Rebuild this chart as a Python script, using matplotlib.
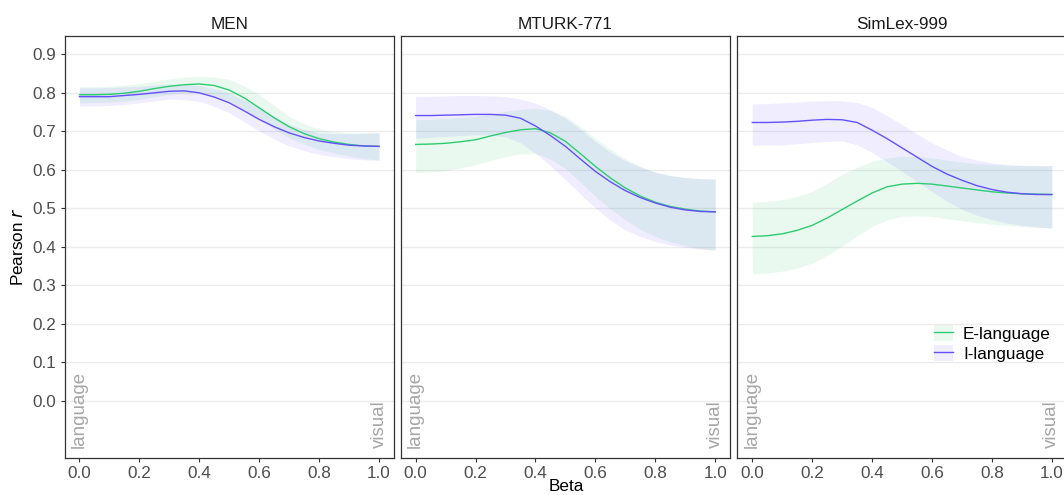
import matplotlib
matplotlib.use("Agg")
import matplotlib.pyplot as plt
from matplotlib.patches import Patch
from matplotlib.lines import Line2D

plt.rcParams['font.family'] = ['Liberation Sans', 'DejaVu Sans']

# ---- data ----
beta = [0.0, 0.05, 0.1, 0.15, 0.2, 0.25, 0.3, 0.35, 0.4, 0.45, 0.5,
        0.55, 0.6, 0.65, 0.7, 0.75, 0.8, 0.85, 0.9, 0.95, 1.0]
panels = ["MEN", "MTURK-771", "SimLex-999"]
series = ["E-language", "I-language"]

# MEN
men_e_mean = [0.795, 0.795, 0.796, 0.799, 0.804, 0.811, 0.817, 0.821, 0.823, 0.819, 0.807,
              0.787, 0.761, 0.735, 0.712, 0.694, 0.681, 0.672, 0.666, 0.662, 0.661]
men_e_low  = [0.774, 0.775, 0.776, 0.779, 0.783, 0.790, 0.796, 0.800, 0.802, 0.793, 0.778,
              0.756, 0.731, 0.706, 0.683, 0.667, 0.653, 0.644, 0.636, 0.630, 0.625]
men_e_high = [0.816, 0.816, 0.817, 0.820, 0.824, 0.830, 0.836, 0.841, 0.843, 0.841, 0.835,
              0.818, 0.796, 0.767, 0.739, 0.720, 0.705, 0.699, 0.696, 0.696, 0.696]
men_i_mean = [0.790, 0.790, 0.790, 0.793, 0.796, 0.800, 0.804, 0.805, 0.800, 0.789, 0.774,
              0.753, 0.731, 0.712, 0.696, 0.684, 0.675, 0.669, 0.664, 0.662, 0.661]
men_i_low  = [0.765, 0.766, 0.767, 0.770, 0.774, 0.779, 0.784, 0.782, 0.778, 0.765, 0.748,
              0.725, 0.701, 0.680, 0.662, 0.650, 0.640, 0.634, 0.629, 0.626, 0.625]
men_i_high = [0.813, 0.813, 0.814, 0.815, 0.817, 0.820, 0.823, 0.822, 0.819, 0.811, 0.800,
              0.782, 0.761, 0.739, 0.718, 0.705, 0.696, 0.694, 0.694, 0.695, 0.696]

# MTURK-771
mt_e_mean = [0.666, 0.667, 0.669, 0.673, 0.678, 0.688, 0.697, 0.704, 0.707, 0.696, 0.674,
             0.642, 0.609, 0.579, 0.553, 0.532, 0.516, 0.505, 0.498, 0.493, 0.491]
mt_e_low  = [0.593, 0.595, 0.598, 0.605, 0.613, 0.624, 0.635, 0.641, 0.643, 0.628, 0.604,
             0.568, 0.531, 0.499, 0.470, 0.446, 0.427, 0.413, 0.404, 0.396, 0.392]
mt_e_high = [0.730, 0.731, 0.733, 0.736, 0.739, 0.745, 0.752, 0.757, 0.760, 0.754, 0.739,
             0.713, 0.682, 0.654, 0.629, 0.609, 0.594, 0.585, 0.580, 0.577, 0.576]
mt_i_mean = [0.741, 0.741, 0.742, 0.743, 0.744, 0.744, 0.742, 0.734, 0.714, 0.689, 0.661,
             0.628, 0.596, 0.569, 0.546, 0.528, 0.514, 0.503, 0.496, 0.492, 0.491]
mt_i_low  = [0.682, 0.684, 0.687, 0.689, 0.691, 0.690, 0.686, 0.670, 0.643, 0.611, 0.575,
             0.537, 0.501, 0.469, 0.444, 0.427, 0.414, 0.405, 0.399, 0.394, 0.392]
mt_i_high = [0.791, 0.791, 0.792, 0.793, 0.793, 0.792, 0.790, 0.784, 0.773, 0.756, 0.734,
             0.705, 0.674, 0.646, 0.624, 0.607, 0.594, 0.585, 0.580, 0.577, 0.576]

# SimLex-999
sl_e_mean = [0.427, 0.429, 0.434, 0.443, 0.456, 0.475, 0.497, 0.519, 0.540, 0.556, 0.563,
             0.565, 0.563, 0.558, 0.553, 0.548, 0.543, 0.540, 0.538, 0.537, 0.536]
sl_e_low  = [0.331, 0.332, 0.337, 0.345, 0.358, 0.378, 0.402, 0.428, 0.453, 0.470, 0.479,
             0.481, 0.479, 0.473, 0.468, 0.463, 0.459, 0.456, 0.453, 0.451, 0.449]
sl_e_high = [0.516, 0.518, 0.523, 0.531, 0.544, 0.565, 0.588, 0.607, 0.622, 0.631, 0.635,
             0.635, 0.631, 0.625, 0.620, 0.616, 0.614, 0.612, 0.611, 0.611, 0.611]
sl_i_mean = [0.723, 0.723, 0.724, 0.726, 0.729, 0.731, 0.730, 0.723, 0.703, 0.681, 0.657,
             0.633, 0.609, 0.589, 0.573, 0.559, 0.549, 0.542, 0.538, 0.536, 0.536]
sl_i_low  = [0.664, 0.664, 0.665, 0.668, 0.671, 0.674, 0.675, 0.665, 0.645, 0.621, 0.596,
             0.570, 0.544, 0.519, 0.497, 0.482, 0.471, 0.462, 0.456, 0.452, 0.449]
sl_i_high = [0.771, 0.772, 0.774, 0.776, 0.778, 0.780, 0.779, 0.775, 0.762, 0.741, 0.717,
             0.693, 0.670, 0.651, 0.635, 0.625, 0.618, 0.614, 0.612, 0.611, 0.611]

y_ticks = [0.0, 0.1, 0.2, 0.3, 0.4, 0.5, 0.6, 0.7, 0.8, 0.9]
x_ticks = [0.0, 0.2, 0.4, 0.6, 0.8, 1.0]
x_tick_labels = ["0.0", "0.2", "0.4", "0.6", "0.8", "1.0"]

data = {
    "MEN": [(men_e_mean, men_e_low, men_e_high), (men_i_mean, men_i_low, men_i_high)],
    "MTURK-771": [(mt_e_mean, mt_e_low, mt_e_high), (mt_i_mean, mt_i_low, mt_i_high)],
    "SimLex-999": [(sl_e_mean, sl_e_low, sl_e_high), (sl_i_mean, sl_i_low, sl_i_high)],
}

colors = ["#2ecc71", "#6450ff"]
fill_alpha = 0.10

W, H = 1064, 495
fig = plt.figure(figsize=(W / 100, H / 100), dpi=100)

lefts = [64.5, 400.7, 737.3]
pw = 329.5
top, bottom = 36, 458
fs = 12.3

for i, name in enumerate(panels):
    ax = fig.add_axes([lefts[i] / W, (H - bottom) / H, pw / W, (bottom - top) / H])
    ax.set_xlim(-0.05, 1.05)
    ax.set_ylim(-0.148, 0.9475)
    ax.set_yticks(y_ticks)
    ax.set_xticks(x_ticks)
    ax.grid(axis='y', color='#ebebeb', linewidth=1.0)
    ax.set_axisbelow(True)
    for s in ax.spines.values():
        s.set_color('#333333')
        s.set_linewidth(0.9)
    ax.tick_params(axis='both', colors='#333333', length=2.7, width=0.8,
                   labelsize=fs, labelcolor='#4d4d4d', pad=3)
    ax.set_xticklabels(x_tick_labels)
    if i == 0:
        ax.set_yticklabels(["%.1f" % v for v in y_ticks])
    else:
        ax.tick_params(axis='y', left=False, labelleft=False)

    for j, (m, lo, hi) in enumerate(data[name]):
        ax.fill_between(beta, lo, hi, color=colors[j], alpha=fill_alpha, linewidth=0)
    for j, (m, lo, hi) in enumerate(data[name]):
        ax.plot(beta, m, color=colors[j], linewidth=1.0)

    ax.text(0.0, -0.122, "language", rotation=90, ha='center', va='bottom',
            color='#a6a6a6', fontsize=13.5)
    ax.text(1.0, -0.122, "visual", rotation=90, ha='center', va='bottom',
            color='#a6a6a6', fontsize=13.5)

    ax.set_title(name, fontsize=fs, color='#1a1a1a', pad=5)

fig.text(18 / W, 1 - ((top + bottom) / 2) / H, r"Pearson $\it{r}$", rotation=90,
         ha='center', va='center', fontsize=fs, color='black')
fig.text(566 / W, 1.0 / H, "Beta", ha='center', va='bottom', fontsize=fs, color='black')

handles = []
for c in colors:
    p = Patch(facecolor=c, alpha=fill_alpha, edgecolor='none')
    l = Line2D([], [], color=c, linewidth=1.0)
    handles.append((p, l))
fig.legend(handles, series, loc='upper left', bbox_to_anchor=(934 / W, 1 - 325 / H),
           frameon=False, fontsize=fs, handlelength=1.1, handleheight=1.05,
           handletextpad=0.6, labelspacing=0.2, borderpad=0, borderaxespad=0)

fig.savefig("out.png", dpi=100)
